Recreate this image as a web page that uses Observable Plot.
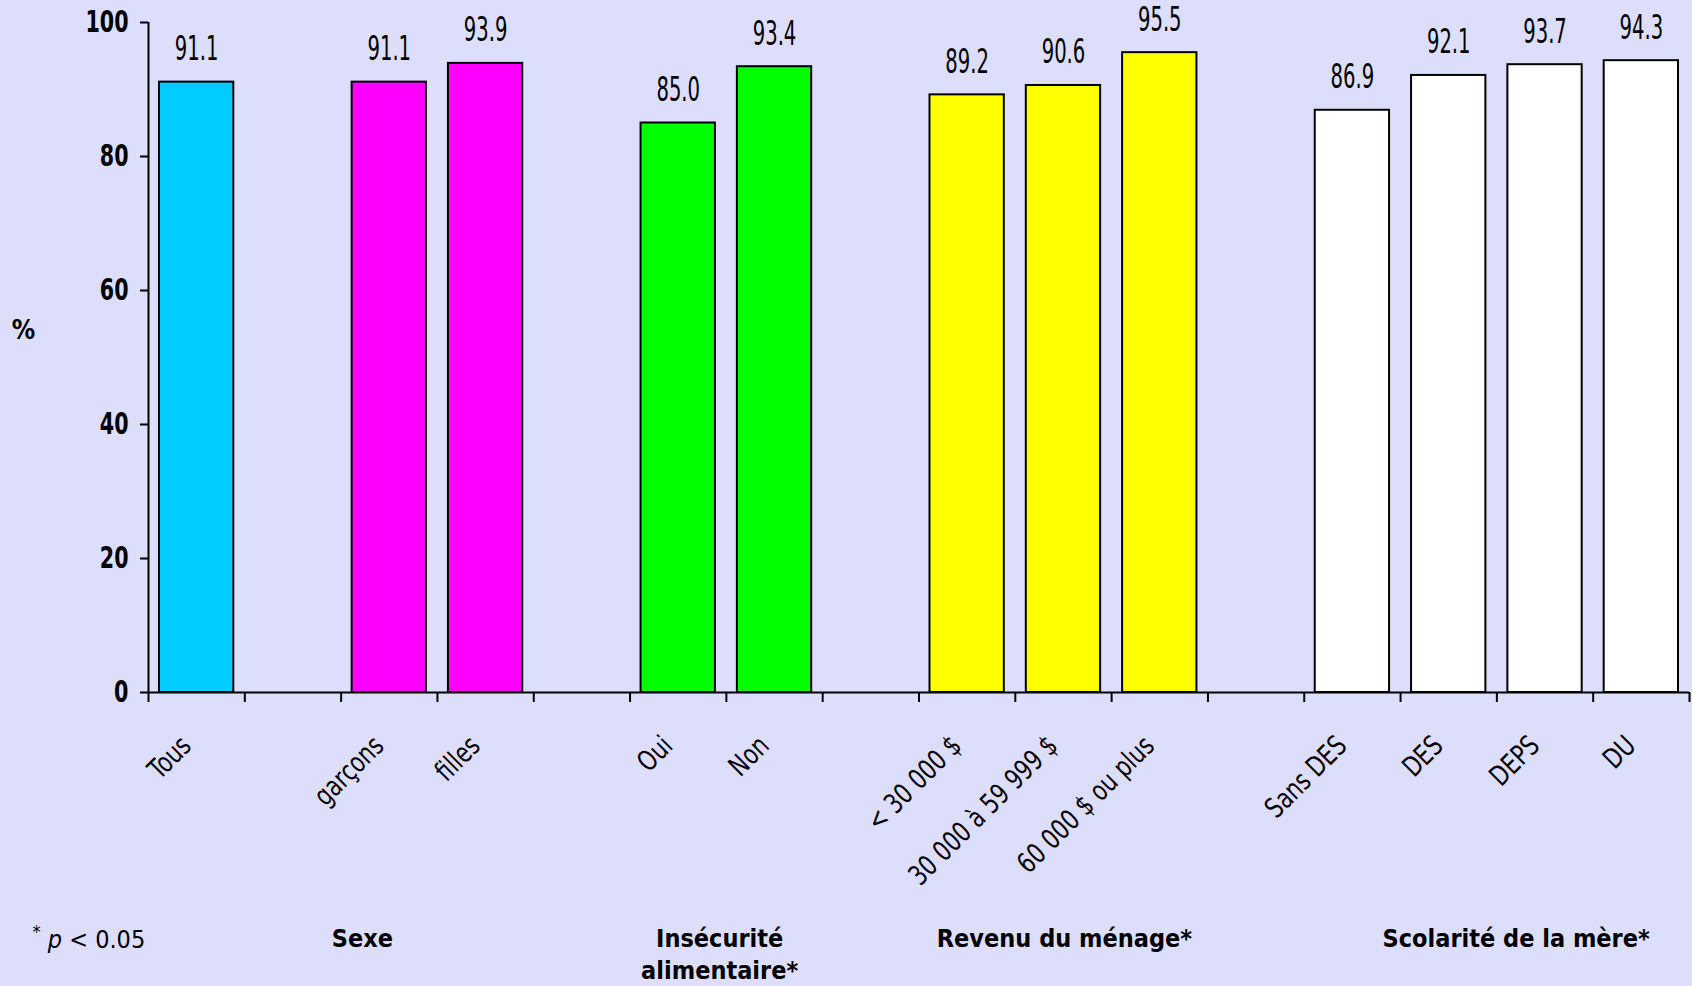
<!DOCTYPE html>
<html>
<head>
<meta charset="utf-8">
<script src="https://cdn.jsdelivr.net/npm/d3@7"></script>
<script src="https://cdn.jsdelivr.net/npm/@observablehq/plot@0.6"></script>
<style>
  html, body { margin: 0; padding: 0; background: #DCDEFC; }
  svg { display: block; }
</style>
</head>
<body>
<script>
// Slots along the x axis; null marks an empty spacer slot between groups.
const slots = [
  "Tous", null,
  "garçons", "filles", null,
  "Oui", "Non", null,
  "< 30 000 $", "30 000 à 59 999 $", "60 000 $ ou plus", null,
  "Sans DES", "DES", "DEPS", "DU"
];
// Percentages, one per labelled slot, in order.
const values = [91.1, 91.1, 93.9, 85.0, 93.4, 89.2, 90.6, 95.5, 86.9, 92.1, 93.7, 94.3];
// Group each category belongs to.
const groupOf = ["Tous", "Sexe", "Sexe", "Insécurité", "Insécurité", "Revenu", "Revenu", "Revenu",
                 "Scolarité", "Scolarité", "Scolarité", "Scolarité"];
const groupKeys = ["Tous", "Sexe", "Insécurité", "Revenu", "Scolarité"];
const yTicks = [0, 20, 40, 60, 80, 100];
const groupTitles = ["Sexe", "Insécurité\nalimentaire*", "Revenu du ménage*", "Scolarité de la mère*"];

// Build the bar table from the arrays above.
const categories = slots.filter(s => s !== null);
const rows = categories.map((c, i) => ({
  category: c,
  slot: slots.indexOf(c),
  value: values[i],
  group: groupOf[i]
}));

// Where each group title sits, in slot units along the x axis.
const titleSlot = {"Sexe": 2.22, "Insécurité\nalimentaire*": 5.93, "Revenu du ménage*": 9.51, "Scolarité de la mère*": 14.2};
const titles = groupTitles.map(t => ({title: t, x: titleSlot[t]}));

const FONT = "'Liberation Sans Narrow', 'Arial Narrow', 'DejaVu Sans Condensed', 'Liberation Sans', sans-serif";

const chart = Plot.plot({
  width: 1692,
  height: 986,
  marginLeft: 148,
  marginRight: 3,
  marginTop: 22,
  marginBottom: 294,
  style: {background: "#DCDEFC", fontFamily: FONT, color: "black"},
  x: {domain: [0, slots.length]},
  y: {domain: [0, 100]},
  color: {domain: groupKeys, range: ["#00CCFF", "#FF00FF", "#00FF00", "#FFFF00", "#FFFFFF"]},
  marks: [
    // bars
    Plot.rectY(rows, {
      x1: "slot", x2: d => d.slot + 1, y: "value",
      fill: "group", stroke: "black", strokeWidth: 2,
      insetLeft: 11, insetRight: 11
    }),
    // value labels
    Plot.text(rows, {
      x: d => d.slot + 0.5, y: "value",
      text: d => d3.format(".1f")(d.value),
      lineAnchor: "bottom", dy: -22, fontSize: 33, fill: "black",
      className: "vals"
    }),
    // y axis
    Plot.axisY({
      ticks: yTicks, tickSize: 8, tickPadding: 12, strokeWidth: 2,
      fontSize: 31, fontWeight: "bold", label: null, className: "ylab"
    }),
    Plot.ruleX([0], {y1: 0, y2: 100, strokeWidth: 2}),
    // x axis: tick marks between slots, line at zero
    Plot.axisX({
      ticks: d3.range(slots.length + 1), tickSize: 10, strokeWidth: 2,
      tickFormat: () => "", label: null
    }),
    Plot.ruleY([0], {x1: 0, x2: slots.length, strokeWidth: 2}),
    // category labels
    Plot.text(rows, {
      x: d => d.slot + 0.5, frameAnchor: "bottom",
      text: "category", rotate: -45, textAnchor: "end",
      dx: -4, dy: 55, fontSize: 28, fill: "black",
      className: "xlab"
    }),
    // group titles
    Plot.text(titles, {
      x: "x", frameAnchor: "bottom", text: "title",
      lineAnchor: "top", dy: 231, fontSize: 25, fontWeight: "bold",
      lineHeight: 1.3, fill: "black"
    }),
    // y unit
    Plot.text(["%"], {
      frameAnchor: "top-left", textAnchor: "middle", dx: -125, dy: 298,
      fontSize: 26, fontWeight: "bold", fill: "black"
    }),
    // significance note
    Plot.text(["p < 0.05"], {
      frameAnchor: "bottom-left", textAnchor: "start", lineAnchor: "bottom",
      dx: -116, dy: 253, fontSize: 25, fill: "black", className: "note"
    })
  ]
});

document.body.append(chart);

// Footnote: raised star, italic p.
chart.querySelectorAll("g.note text").forEach(t => {
  const sel = d3.select(t);
  sel.text(null);
  sel.append("tspan").attr("font-size", 18).attr("dy", "-0.4em").text("*");
  sel.append("tspan").attr("font-style", "italic").attr("dy", "0.4em").text(" p");
  sel.append("tspan").text(" < 0.05");
});

// Condensed look for the value, category and y-tick labels.
function squeeze(selector, k) {
  chart.querySelectorAll(selector).forEach(t => {
    const len = t.getComputedTextLength();
    t.setAttribute("textLength", (len * k).toFixed(1));
    t.setAttribute("lengthAdjust", "spacingAndGlyphs");
  });
}
squeeze("g.vals text", 0.66);
squeeze("g.xlab text", 0.85);
squeeze("g.ylab text", 0.74);
</script>
</body>
</html>
